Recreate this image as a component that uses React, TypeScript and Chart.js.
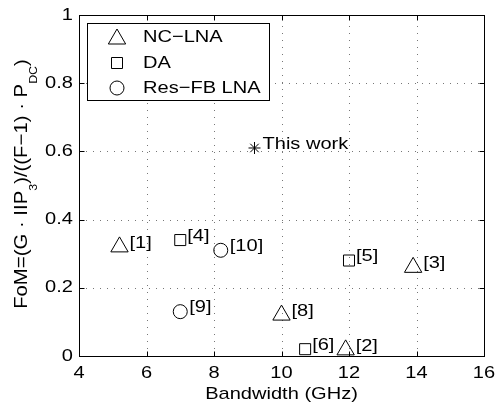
import React, { useEffect, useRef } from 'react';
import { Chart, registerables } from 'chart.js';
Chart.register(...registerables);

const FONT = '"Liberation Sans", Arial, Helvetica, sans-serif';
const XS = 1.18; // horizontal text stretch of the original figure
const FS = 17;

const seriesNames = ['NC\u2212LNA', 'DA', 'Res\u2212FB LNA'];

const ncLnaX = [5.2, 11.9, 13.9, 10.0];
const ncLnaY = [0.32, 0.018, 0.26, 0.12];
const ncLnaRefs = ['[1]', '[2]', '[3]', '[8]'];

const daX = [7.0, 12.0, 10.7];
const daY = [0.34, 0.28, 0.02];
const daRefs = ['[4]', '[5]', '[6]'];

const resFbX = [7.0, 8.2];
const resFbY = [0.13, 0.31];
const resFbRefs = ['[9]', '[10]'];

const thisWorkX = [9.2];
const thisWorkY = [0.61];
const thisWorkRefs = ['This work'];

const xTicks = [4, 6, 8, 10, 12, 14, 16];
const xTickLabels = ['4', '6', '8', '10', '12', '14', '16'];
const yTicks = [0, 0.2, 0.4, 0.6, 0.8, 1];
const yTickLabels = ['0', '0.2', '0.4', '0.6', '0.8', '1'];

const xTitle = 'Bandwidth (GHz)';

function pts(xs: number[], ys: number[]) {
  return xs.map((x, i) => ({ x, y: ys[i] }));
}

function drawText(ctx: CanvasRenderingContext2D, s: string, x: number, y: number, align: CanvasTextAlign, size = FS) {
  ctx.save();
  ctx.translate(x, y);
  ctx.scale(XS, 1);
  ctx.font = `${size}px ${FONT}`;
  ctx.fillStyle = '#000';
  ctx.textAlign = align;
  ctx.textBaseline = 'middle';
  ctx.fillText(s, 0, 0);
  ctx.restore();
}

function drawYTitle(ctx: CanvasRenderingContext2D, cx: number, cy: number) {
  const segs: [string, boolean][] = [
    ['FoM=(G \u00b7 IIP', false],
    ['3', true],
    [')/((F\u22121) \u00b7 P', false],
    ['DC', true],
    [')', false],
  ];
  ctx.save();
  ctx.translate(cx, cy);
  ctx.rotate(-Math.PI / 2);
  ctx.scale(1.13, 1);
  ctx.fillStyle = '#000';
  ctx.textAlign = 'left';
  ctx.textBaseline = 'alphabetic';
  const widths = segs.map(([t, sub]) => {
    ctx.font = `${sub ? 11 : 18}px ${FONT}`;
    return ctx.measureText(t).width;
  });
  const total = widths.reduce((a, b) => a + b, 0);
  let u = -total / 2;
  segs.forEach(([t, sub], i) => {
    ctx.font = `${sub ? 11 : 18}px ${FONT}`;
    ctx.fillText(t, u, sub ? 17 : 7);
    u += widths[i];
  });
  ctx.restore();
}

function marker(ctx: CanvasRenderingContext2D, kind: string, x: number, y: number) {
  ctx.save();
  ctx.strokeStyle = '#000';
  ctx.lineWidth = 1;
  ctx.beginPath();
  if (kind === 'triangle') {
    const r = 10;
    for (let k = 0; k < 3; k++) {
      const a = (k * 2 * Math.PI) / 3;
      const px = x + Math.sin(a) * r;
      const py = y - Math.cos(a) * r;
      if (k === 0) ctx.moveTo(px, py);
      else ctx.lineTo(px, py);
    }
    ctx.closePath();
  } else if (kind === 'rect') {
    ctx.rect(x - 5.5, y - 5.5, 11, 11);
  } else if (kind === 'circle') {
    ctx.arc(x, y, 7, 0, Math.PI * 2);
  }
  ctx.stroke();
  ctx.restore();
}

const matlabPlugin = {
  id: 'matlabStyle',
  beforeDatasetsDraw(chart: any) {
    const { ctx, chartArea: a, scales } = chart;
    const xs = scales.x;
    const ys = scales.y;
    ctx.save();
    // dotted grid
    ctx.strokeStyle = '#777';
    ctx.lineWidth = 1;
    ctx.setLineDash([1, 6]);
    xTicks.forEach((v) => {
      const px = Math.round(xs.getPixelForValue(v)) + 0.5;
      if (px < a.left + 2 || px > a.right - 2) return;
      ctx.beginPath();
      ctx.moveTo(px, a.bottom);
      ctx.lineTo(px, a.top);
      ctx.stroke();
    });
    yTicks.forEach((v) => {
      const py = Math.round(ys.getPixelForValue(v)) + 0.5;
      if (py < a.top + 2 || py > a.bottom - 2) return;
      ctx.beginPath();
      ctx.moveTo(a.left, py);
      ctx.lineTo(a.right, py);
      ctx.stroke();
    });
    ctx.setLineDash([]);
    // box
    ctx.strokeStyle = '#000';
    const L = Math.round(a.left) + 0.5, R = Math.round(a.right) + 0.5;
    const T = Math.round(a.top) + 0.5, B = Math.round(a.bottom) + 0.5;
    ctx.strokeRect(L, T, R - L, B - T);
    // inward ticks
    const tl = 5;
    ctx.beginPath();
    xTicks.forEach((v) => {
      const px = Math.round(xs.getPixelForValue(v)) + 0.5;
      ctx.moveTo(px, B);
      ctx.lineTo(px, B - tl);
      ctx.moveTo(px, T);
      ctx.lineTo(px, T + tl);
    });
    yTicks.forEach((v) => {
      const py = Math.round(ys.getPixelForValue(v)) + 0.5;
      ctx.moveTo(L, py);
      ctx.lineTo(L + tl, py);
      ctx.moveTo(R, py);
      ctx.lineTo(R - tl, py);
    });
    ctx.stroke();
    ctx.restore();
  },
  afterDatasetsDraw(chart: any) {
    const { ctx, chartArea: a, scales } = chart;
    const xs = scales.x;
    const ys = scales.y;
    // point labels
    const offs = [10, 7, 9, 8];
    chart.data.datasets.forEach((ds: any, di: number) => {
      const meta = chart.getDatasetMeta(di);
      meta.data.forEach((el: any, i: number) => {
        drawText(ctx, ds.refs[i], el.x + offs[di], el.y - 4, 'left');
      });
    });
    // tick labels
    xTicks.forEach((v, i) => drawText(ctx, xTickLabels[i], xs.getPixelForValue(v), a.bottom + 17, 'center'));
    yTicks.forEach((v, i) => drawText(ctx, yTickLabels[i], a.left - 6, ys.getPixelForValue(v), 'right'));
    // axis titles
    drawText(ctx, xTitle, (a.left + a.right) / 2, a.bottom + 38, 'center');
    drawYTitle(ctx, 20, 184);
    // legend
    ctx.save();
    ctx.fillStyle = '#fff';
    ctx.strokeStyle = '#000';
    ctx.lineWidth = 1;
    ctx.fillRect(87.5, 23.5, 182, 77);
    ctx.strokeRect(87.5, 23.5, 182, 77);
    ctx.restore();
    const kinds = ['triangle', 'rect', 'circle'];
    const rowsY = [37, 63, 88];
    seriesNames.forEach((n, i) => {
      marker(ctx, kinds[i], 117, rowsY[i] + (i === 0 ? 2 : 0));
      drawText(ctx, n, 143, rowsY[i], 'left');
    });
  },
};

export default function App() {
  const ref = useRef<HTMLCanvasElement | null>(null);
  useEffect(() => {
    if (!ref.current) return;
    const common = { borderColor: '#000', backgroundColor: 'rgba(0,0,0,0)', borderWidth: 1, showLine: false };
    const chart = new Chart(ref.current, {
      type: 'scatter',
      data: {
        datasets: [
          { ...common, label: seriesNames[0], data: pts(ncLnaX, ncLnaY), pointStyle: 'triangle', pointRadius: 10, refs: ncLnaRefs } as any,
          { ...common, label: seriesNames[1], data: pts(daX, daY), pointStyle: 'rect', pointRadius: 7.8, refs: daRefs } as any,
          { ...common, label: seriesNames[2], data: pts(resFbX, resFbY), pointStyle: 'circle', pointRadius: 7, refs: resFbRefs } as any,
          { ...common, label: 'This work', data: pts(thisWorkX, thisWorkY), pointStyle: 'star', pointRadius: 6, refs: thisWorkRefs } as any,
        ],
      },
      options: {
        animation: false,
        responsive: true,
        maintainAspectRatio: false,
        events: [],
        layout: { padding: { left: 0, top: 15, right: 13, bottom: 0 } },
        plugins: { legend: { display: false }, tooltip: { enabled: false } },
        scales: {
          x: {
            type: 'linear',
            min: 4,
            max: 16,
            ticks: { display: false, stepSize: 2 },
            grid: { display: false },
            border: { display: false },
            afterFit: (s: any) => { s.height = 48; },
          },
          y: {
            type: 'linear',
            min: 0,
            max: 1,
            ticks: { display: false, stepSize: 0.2 },
            grid: { display: false },
            border: { display: false },
            afterFit: (s: any) => { s.width = 79; },
          },
        },
      },
      plugins: [matlabPlugin],
    } as any);
    return () => chart.destroy();
  }, []);
  return (
    <div style={{ position: 'fixed', left: 0, top: 0, width: 497, height: 404, background: '#fff' }}>
      <canvas ref={ref} />
    </div>
  );
}
